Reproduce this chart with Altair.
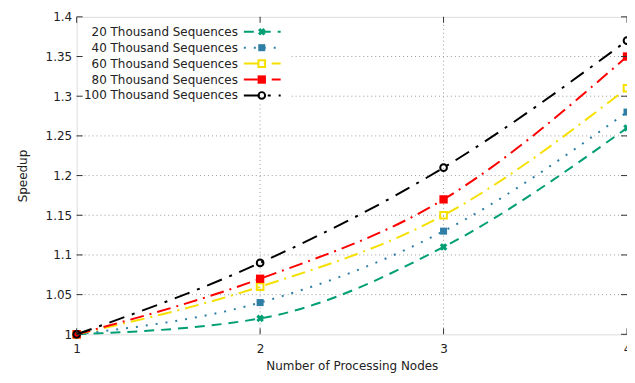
import altair as alt
import pandas as pd

nodes = [1, 2, 3, 4]
series_names = ["20 Thousand Sequences", "40 Thousand Sequences", "60 Thousand Sequences",
                "80 Thousand Sequences", "100 Thousand Sequences"]
s20 = [1.0, 1.02, 1.11, 1.26]
s40 = [1.0, 1.04, 1.13, 1.28]
s60 = [1.0, 1.06, 1.15, 1.31]
s80 = [1.0, 1.07, 1.17, 1.35]
s100 = [1.0, 1.09, 1.21, 1.37]
series_values = [s20, s40, s60, s80, s100]
y_ticks = [1.0, 1.05, 1.1, 1.15, 1.2, 1.25, 1.3, 1.35, 1.4]
x_ticks = [1, 2, 3, 4]

colors = ["#009e73", "#2f7ea6", "#f5e000", "#ff0000", "#000000"]
dashes = [[10, 7], [2, 8], [14, 6, 2, 6], [14, 6, 2, 6], [16, 8, 3, 8]]
shapes = ["cross", "square", "square", "square", "circle"]
angles = [45, 0, 0, 0, 0]
filled = [True, True, False, True, False]
sizes = [60, 50, 45, 70, 45]

FONT = "DejaVu Sans"
W, H = 553, 319

xs = alt.Scale(domain=[1, 4], nice=False)
ys = alt.Scale(domain=[1.0, 1.4], nice=False, zero=False)

x_axis = alt.Axis(
    values=x_ticks, title="Number of Processing Nodes", grid=False, format="d",
    labelFont=FONT, titleFont=FONT, labelFontSize=12, titleFontSize=12,
    titleFontWeight="normal", labelColor="#222", titleColor="#222",
    domain=False, ticks=False, labelPadding=9, titlePadding=6,
    labelFlush=False, labelOverlap=False)
y_axis = alt.Axis(
    values=y_ticks, title="Speedup", grid=False, format="~g",
    labelFont=FONT, titleFont=FONT, labelFontSize=12, titleFontSize=12,
    titleFontWeight="normal", labelColor="#222", titleColor="#222",
    domain=False, ticks=False, labelPadding=5, titlePadding=16,
    labelOverlap=False, labelFlush=False)


def X(field):
    return alt.X(field, scale=xs, axis=x_axis)


def Y(field):
    return alt.Y(field, scale=ys, axis=y_axis)


grid_y = alt.Chart(pd.DataFrame({"v": y_ticks[1:-1]})).mark_rule(
    color="#9a9a9a", strokeDash=[1, 3], strokeWidth=1
).encode(y=Y("v:Q"))
grid_x = alt.Chart(pd.DataFrame({"v": x_ticks[1:-1]})).mark_rule(
    color="#9a9a9a", strokeDash=[1, 3], strokeWidth=1
).encode(x=X("v:Q"))

# white legend background
legend_bg = alt.Chart(pd.DataFrame({"a": [0]})).mark_rect(color="white").encode(
    x=alt.value(2), x2=alt.value(215), y=alt.value(2), y2=alt.value(87)
)

layers = [grid_y, grid_x, legend_bg]

row_y = [15, 31, 47, 63, 79]
for i, name in enumerate(series_names):
    df = pd.DataFrame({"x": nodes, "y": series_values[i], "s": name})
    base = alt.Chart(df)
    line = base.mark_line(
        color=colors[i], strokeDash=dashes[i], strokeWidth=2, interpolate="monotone"
    ).encode(x=X("x:Q"), y=Y("y:Q"))
    pts = base.mark_point(
        color=colors[i], shape=shapes[i], angle=angles[i], filled=filled[i], size=sizes[i],
        strokeWidth=2, opacity=1
    ).encode(x=X("x:Q"), y=Y("y:Q"))
    layers += [line, pts]

    # manual legend entry (gnuplot style: text then sample)
    leg = alt.Chart(pd.DataFrame({"t": [name]}))
    layers.append(leg.mark_text(
        align="right", baseline="middle", font=FONT, fontSize=12, color="#222"
    ).encode(text="t:N", x=alt.value(162), y=alt.value(row_y[i])))
    layers.append(leg.mark_rule(
        color=colors[i], strokeDash=dashes[i], strokeWidth=2
    ).encode(x=alt.value(168), x2=alt.value(205), y=alt.value(row_y[i])))
    layers.append(leg.mark_point(
        color=colors[i], shape=shapes[i], angle=angles[i], filled=filled[i], size=sizes[i],
        strokeWidth=2, opacity=1
    ).encode(x=alt.value(186), y=alt.value(row_y[i])))

# inward tick marks
tick_y = alt.Chart(pd.DataFrame({"v": y_ticks})).mark_rule(color="#333").encode(
    y=Y("v:Q"), x=alt.value(0), x2=alt.value(6))
tick_y2 = alt.Chart(pd.DataFrame({"v": y_ticks})).mark_rule(color="#333").encode(
    y=Y("v:Q"), x=alt.value(W - 6), x2=alt.value(W))
tick_x = alt.Chart(pd.DataFrame({"v": x_ticks})).mark_rule(color="#333").encode(
    x=X("v:Q"), y=alt.value(H - 6), y2=alt.value(H))
tick_x2 = alt.Chart(pd.DataFrame({"v": x_ticks})).mark_rule(color="#333").encode(
    x=X("v:Q"), y=alt.value(0), y2=alt.value(6))
layers += [tick_y, tick_y2, tick_x, tick_x2]

chart = alt.layer(*layers).properties(
    width=W, height=H,
    autosize=alt.AutoSizeParams(type="none"),
    padding={"left": 69, "top": 8, "right": 0, "bottom": 40},
).configure_view(stroke="#333", strokeWidth=1.5).configure(background="white")

chart.save("out.html", embed_options={"renderer": "svg", "actions": False})
